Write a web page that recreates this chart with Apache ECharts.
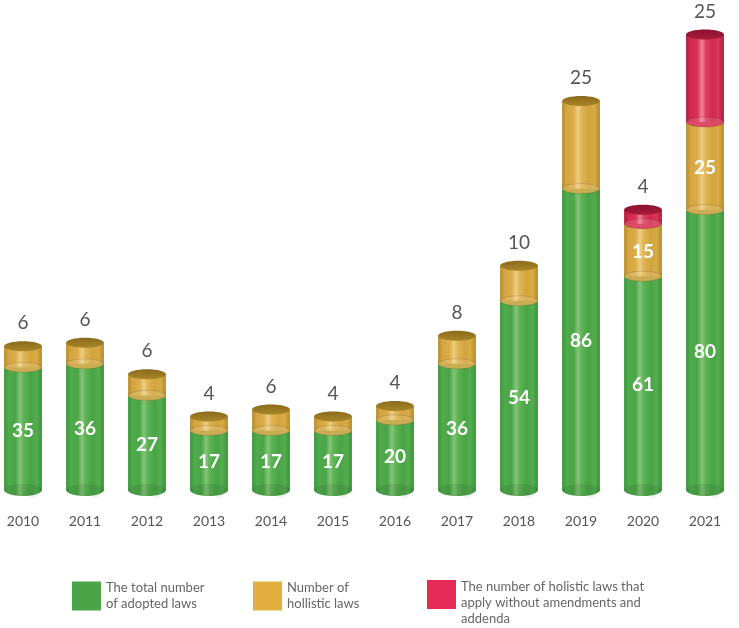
<!DOCTYPE html>
<html>
<head>
<meta charset="utf-8">
<script src="https://cdn.jsdelivr.net/npm/echarts@6/dist/echarts.min.js"></script>
<style>
  html, body { margin: 0; padding: 0; background: #fff; }
  #chart { width: 739px; height: 628px; }
</style>
</head>
<body>
<div id="chart"></div>
<script>
// data
const years = ['2010', '2011', '2012', '2013', '2014', '2015', '2016', '2017', '2018', '2019', '2020', '2021'];
const totalLaws = [35, 36, 27, 17, 17, 17, 20, 36, 54, 86, 61, 80];
const holisticLaws = [6, 6, 6, 4, 6, 4, 4, 8, 10, 25, 15, 25];
const unamendedLaws = [0, 0, 0, 0, 0, 0, 0, 0, 0, 0, 4, 25];

const seriesNames = [
  'The total number\nof adopted laws',
  'Number of\nhollistic laws',
  'The number of holistic laws that\napply without amendments and\naddenda'
];
const layers = [totalLaws, holisticLaws, unamendedLaws];

// colours per layer
const palette = [
  {
    legend: '#4aa548',
    body: ['#3b963a', '#50ab4c', '#4aa548', '#83c677', '#5db356', '#48a445', '#55ad50', '#389238'],
    cap: ['#2f8a30', '#4aa548'],
    ring: 'rgba(70,160,68,0.9)'
  },
  {
    legend: '#e2ae40',
    body: ['#b98c2c', '#d4a643', '#dbad48', '#efcd85', '#dfb552', '#d2a440', '#d9ab47', '#b5892a'],
    cap: ['#8a6a1c', '#a98629'],
    ring: 'rgba(200,160,60,0.95)'
  },
  {
    legend: '#e52a55',
    body: ['#b41a3c', '#d22a4f', '#d93155', '#ef8396', '#de3f61', '#d02a4e', '#d7375a', '#ad183a'],
    cap: ['#8a1230', '#a81a3b'],
    ring: 'rgba(215,45,80,0.95)'
  }
];
const stopPos = [0, 0.12, 0.3, 0.42, 0.52, 0.7, 0.86, 1];

function bodyGradient(cols) {
  return new echarts.graphic.LinearGradient(0, 0, 1, 0,
    cols.map((c, k) => ({ offset: stopPos[k], color: c })));
}

function isTopLayer(layer, idx) {
  for (let k = layer + 1; k < layers.length; k++) {
    if (layers[k][idx] > 0) return false;
  }
  return true;
}

function makeRender(layer) {
  return function (params, api) {
    const idx = api.value(0);
    const base = api.value(1);
    const top = api.value(2);
    if (top - base <= 0) return null;
    const lo = api.coord([idx, base]);
    const hi = api.coord([idx, top]);
    const w = api.size([1, 0])[0] * 0.61;
    const hw = w / 2;
    const x = lo[0];
    const ry = 5;
    const pal = palette[layer];
    const top_ = isTopLayer(layer, idx);
    const children = [];

    if (layer === 0) {
      // floor shadow
      children.push({
        type: 'ellipse',
        shape: { cx: x + 10, cy: lo[1] + 2, rx: hw + 14, ry: 7 },
        style: {
          fill: new echarts.graphic.RadialGradient(0.5, 0.5, 0.5, [
            { offset: 0, color: 'rgba(0,0,0,0.16)' },
            { offset: 1, color: 'rgba(0,0,0,0)' }
          ])
        }
      });
    }
    // bottom of segment
    children.push({
      type: 'ellipse',
      shape: { cx: x, cy: lo[1], rx: hw, ry: ry + (layer === 0 ? 1 : 0) },
      style: { fill: layer === 0 ? bodyGradient(pal.body) : pal.ring }
    });
    // body
    children.push({
      type: 'rect',
      shape: { x: x - hw, y: hi[1], width: w, height: lo[1] - hi[1] },
      style: { fill: bodyGradient(pal.body) }
    });
    if (layer > 0) {
      // lighter upper rim of the joint
      children.push({
        type: 'ellipse',
        shape: { cx: x, cy: lo[1], rx: hw, ry: ry },
        style: { fill: 'rgba(255,255,255,0.12)', stroke: 'rgba(0,0,0,0.12)', lineWidth: 1 }
      });
    } else {
      children.push({
        type: 'ellipse',
        shape: { cx: x, cy: lo[1], rx: hw, ry: ry + 1 },
        style: { fill: 'rgba(0,0,0,0.08)' }
      });
    }
    if (top_) {
      children.push({
        type: 'ellipse',
        shape: { cx: x, cy: hi[1], rx: hw, ry: ry },
        style: {
          fill: new echarts.graphic.LinearGradient(0, 0, 0, 1, [
            { offset: 0, color: pal.cap[0] },
            { offset: 1, color: pal.cap[1] }
          ])
        }
      });
      children.push({
        type: 'text',
        style: {
          text: String(top - base),
          x: x, y: hi[1] - 23,
          align: 'center', verticalAlign: 'middle',
          fill: '#555', fontSize: 19, fontFamily: 'Lato', fontWeight: 'normal'
        }
      });
    } else {
      children.push({
        type: 'text',
        style: {
          text: String(top - base),
          x: x, y: (lo[1] + hi[1]) / 2 + 2,
          align: 'center', verticalAlign: 'middle',
          fill: '#fff', fontSize: 19, fontFamily: 'Lato', fontWeight: 'bold'
        }
      });
    }
    return { type: 'group', children: children };
  };
}

const series = layers.map((arr, layer) => {
  const data = arr.map((v, i) => {
    let base = 0;
    for (let k = 0; k < layer; k++) base += layers[k][i];
    return [i, base, base + v];
  });
  return {
    name: seriesNames[layer],
    type: 'custom',
    renderItem: makeRender(layer),
    itemStyle: { color: palette[layer].legend },
    encode: { x: 0, y: [1, 2] },
    data: data
  };
});

const legendBase = {
  orient: 'horizontal',
  top: 580,
  padding: 0,
  icon: 'rect',
  itemWidth: 29,
  itemHeight: 29,
  selectedMode: false,
  textStyle: { color: '#666', fontSize: 13, lineHeight: 16, fontFamily: 'Lato' }
};

const chart = echarts.init(document.getElementById('chart'));
chart.setOption({
  animation: false,
  backgroundColor: '#fff',
  grid: { left: 0, right: 0, top: 34.4, bottom: 138 },
  xAxis: {
    type: 'value',
    min: -23 / 62,
    max: 11 + 34 / 62,
    splitLine: { show: false },
    axisLine: { show: false },
    axisTick: { show: false },
    axisLabel: {
      customValues: years.map((y, i) => i),
      formatter: (v) => years[v],
      color: '#555', fontSize: 14, fontFamily: 'Lato', margin: 24
    }
  },
  yAxis: { type: 'value', min: 0, max: 130, show: false },
  legend: [
    Object.assign({}, legendBase, { left: 72, data: [seriesNames[0]] }),
    Object.assign({}, legendBase, { left: 253, data: [seriesNames[1]] }),
    Object.assign({}, legendBase, {
      left: 427, top: 562.5, data: [seriesNames[2]],
      formatter: (name) => ' \n' + name
    })
  ],
  series: series
});
</script>
</body>
</html>
